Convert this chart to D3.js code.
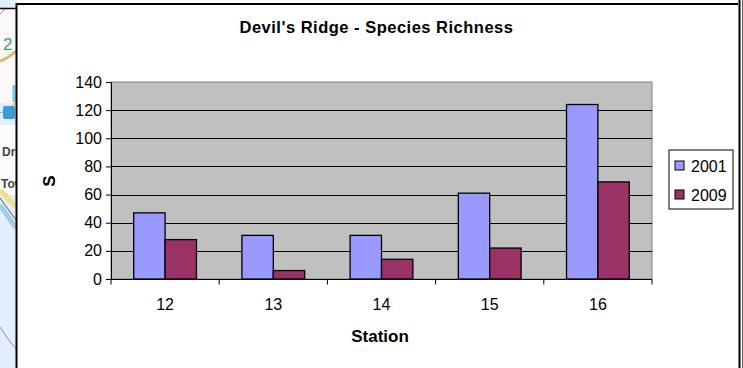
<!DOCTYPE html>
<html>
<head>
<meta charset="utf-8">
<script src="https://cdn.jsdelivr.net/npm/d3@7/dist/d3.min.js"></script>
<style>
html,body{margin:0;padding:0;background:#fff}
svg{display:block}
text{font-family:"Liberation Sans",Arial,sans-serif;fill:#000}
</style>
</head>
<body>
<svg id="chart" width="743" height="368"></svg>
<script>
const categories = ["12", "13", "14", "15", "16"];
const seriesNames = ["2001", "2009"];
const values2001 = [47, 31, 31, 61, 124];
const values2009 = [28, 6, 14, 22, 69];
const yTicks = [0, 20, 40, 60, 80, 100, 120, 140];
const seriesColors = ["#9999ff", "#993366"];

const svg = d3.select("#chart");

// Street map showing behind the chart frame on the left
const map = svg.append("g");
const line = (d, color, w) => map.append("path").attr("d", d).attr("stroke", color).attr("stroke-width", w).attr("fill", "none");
map.append("rect").attr("width", 17).attr("height", 368).attr("fill", "#e2eefb");
map.append("rect").attr("y", 8).attr("width", 17).attr("height", 95).attr("fill", "#fbf8f8");
map.append("rect").attr("y", 125).attr("width", 17).attr("height", 70).attr("fill", "#fafcfe");
line("M0,14 L5,9", "#999", 1);
line("M0,61 Q9,58 16,51", "#d9b873", 3);
line("M14,85 V102", "#7cc4ea", 3);
line("M0,113 L14,108", "#9ab", 1);
line("M4,116 L16,102", "#e8d25e", 2);
line("M0,190 L16,207", "#efe08a", 5);
line("M0,198 L16,220", "#555", 1);
line("M0,205 L16,228", "#9fcfe8", 5);
line("M0,327 Q8,340 16,349", "#8a8f99", 1);
map.append("rect").attr("x", 3).attr("y", 106).attr("width", 12).attr("height", 13).attr("rx", 2).attr("fill", "#3b9ad6");
map.append("text").attr("x", 3).attr("y", 50).attr("font-size", 17).style("fill", "#3aa26b").text("2");
map.append("text").attr("x", 2).attr("y", 156).attr("font-size", 12).attr("font-weight", "bold").style("fill", "#444").text("Dr");
map.append("text").attr("x", 1).attr("y", 188).attr("font-size", 12).attr("font-weight", "bold").style("fill", "#444").text("Tow");

// Chart frame
svg.append("path").attr("d", "M0,8.5H16").attr("stroke", "#000").attr("stroke-width", 1.5);
svg.append("rect").attr("x", 16.5).attr("y", 4).attr("width", 800).attr("height", 400)
  .attr("fill", "#fff").attr("stroke", "#000").attr("stroke-width", 2);
svg.append("rect").attr("x", 738).attr("width", 5).attr("height", 368).attr("fill", "#fff");
svg.append("path").attr("d", "M739.5,0V368").attr("stroke", "#000").attr("stroke-width", 2);
svg.append("path").attr("d", "M742.5,0V368").attr("stroke", "#666").attr("stroke-width", 1);

const plot = {left: 111, right: 652, top: 82, bottom: 279};

const x = d3.scaleBand().domain(categories).range([plot.left, plot.right]);
const y = d3.scaleLinear().domain([0, 140]).range([plot.bottom, plot.top]);
const barW = x.bandwidth() * 0.29;

// Plot area
svg.append("rect").attr("x", plot.left).attr("y", plot.top)
  .attr("width", plot.right - plot.left).attr("height", plot.bottom - plot.top)
  .attr("fill", "#c0c0c0").attr("stroke", "#808080").attr("stroke-width", 1);

// Gridlines
svg.append("g").selectAll("line").data(yTicks.filter(d => d > 0 && d < 140)).join("line")
  .attr("x1", plot.left).attr("x2", plot.right)
  .attr("y1", d => Math.round(y(d)) + 0.5).attr("y2", d => Math.round(y(d)) + 0.5)
  .attr("stroke", "#000").attr("stroke-width", 1);

// Bars, one group per series
[values2001, values2009].forEach((vals, s) => {
  svg.append("g").selectAll("rect").data(vals).join("rect")
    .attr("x", (d, i) => x(categories[i]) + x.bandwidth() / 2 - barW + s * barW)
    .attr("y", d => y(d))
    .attr("width", barW)
    .attr("height", d => y(0) - y(d))
    .attr("fill", seriesColors[s])
    .attr("stroke", "#000").attr("stroke-width", 1.3);
});

// Axes
const yAxis = d3.axisLeft(y).tickValues(yTicks).tickSize(5).tickPadding(4);
const gy = svg.append("g").attr("transform", `translate(${plot.left},0)`).call(yAxis);
gy.selectAll("text").attr("font-size", 16).style("font-family", '"Liberation Sans",Arial,sans-serif');

const gx = svg.append("g").attr("transform", `translate(0,${plot.bottom + 0.5})`);
gx.append("line").attr("x1", plot.left - 5).attr("x2", plot.right).attr("stroke", "#000");
gx.selectAll("line.t").data(d3.range(categories.length + 1)).join("line").attr("class", "t")
  .attr("x1", i => plot.left + i * x.step()).attr("x2", i => plot.left + i * x.step())
  .attr("y1", 0).attr("y2", 5).attr("stroke", "#000");
gx.selectAll("text").data(categories).join("text")
  .attr("x", d => x(d) + x.bandwidth() / 2).attr("y", 30)
  .attr("text-anchor", "middle").attr("font-size", 16).text(d => d);

// Titles
svg.append("text").attr("x", 376.5).attr("y", 33).attr("text-anchor", "middle")
  .attr("font-size", 16.5).attr("letter-spacing", 0.5).attr("font-weight", "bold").text("Devil's Ridge - Species Richness");
svg.append("text").attr("x", 380).attr("y", 342).attr("text-anchor", "middle")
  .attr("font-size", 17).attr("font-weight", "bold").text("Station");
svg.append("text").attr("transform", "translate(55,181) rotate(-90)").attr("text-anchor", "middle")
  .attr("font-size", 17).attr("font-weight", "bold").text("S");

// Legend
const legend = svg.append("g");
legend.append("rect").attr("x", 669).attr("y", 150).attr("width", 64).attr("height", 59)
  .attr("fill", "#fff").attr("stroke", "#000").attr("stroke-width", 1);
seriesNames.forEach((name, i) => {
  const ly = 165.5 + i * 29;
  legend.append("rect").attr("x", 675).attr("y", ly - 4.5).attr("width", 9).attr("height", 9)
    .attr("fill", seriesColors[i]).attr("stroke", "#000");
  legend.append("text").attr("x", 691).attr("y", ly + 6).attr("font-size", 16).text(name);
});
</script>
</body>
</html>
